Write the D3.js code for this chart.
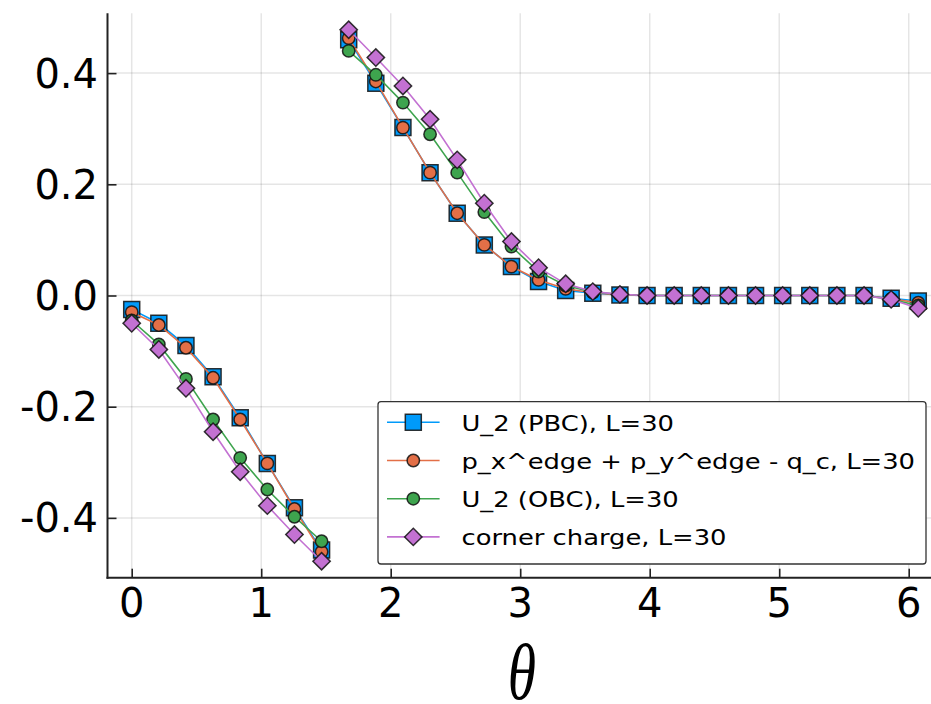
<!DOCTYPE html>
<html>
<head>
<meta charset="utf-8">
<script src="https://cdn.jsdelivr.net/npm/d3@7"></script>
<style>
  html, body { margin: 0; padding: 0; background: #fff; }
  svg { display: block; }
</style>
</head>
<body>
<svg id="chart" width="931" height="704"></svg>
<script>
// theta sample points (2πk/30, k = 0..29)
const thetaVals = [0.0000, 0.2094, 0.4189, 0.6283, 0.8378, 1.0472, 1.2566, 1.4661,
  1.6755, 1.8850, 2.0944, 2.3038, 2.5133, 2.7227, 2.9322, 3.1416, 3.3510, 3.5605,
  3.7699, 3.9794, 4.1888, 4.3982, 4.6077, 4.8171, 5.0265, 5.2360, 5.4454, 5.6549,
  5.8643, 6.0737];

const u2PbcVals = [-0.025, -0.050, -0.090, -0.146, -0.220, -0.302, -0.382, -0.458,
  0.460, 0.382, 0.302, 0.221, 0.148, 0.091, 0.052, 0.025, 0.009, 0.004,
  0.001, 0, 0, 0, 0, 0, 0, 0, 0, 0, -0.005, -0.010];

const edgeVals = [-0.030, -0.053, -0.094, -0.148, -0.223, -0.302, -0.384, -0.461,
  0.463, 0.385, 0.302, 0.221, 0.148, 0.091, 0.052, 0.028, 0.012, 0.005,
  0.001, 0, 0, 0, 0, 0, 0, 0, 0, 0, -0.006, -0.013];

const u2ObcVals = [-0.045, -0.088, -0.150, -0.223, -0.292, -0.349, -0.398, -0.442,
  0.440, 0.397, 0.347, 0.290, 0.221, 0.150, 0.088, 0.043, 0.018, 0.006,
  0.002, 0, 0, 0, 0, 0, 0, 0, 0, 0, -0.007, -0.018];

const cornerVals = [-0.050, -0.097, -0.167, -0.245, -0.317, -0.378, -0.430, -0.478,
  0.478, 0.428, 0.377, 0.317, 0.244, 0.166, 0.097, 0.050, 0.021, 0.007,
  0.002, 0, 0, 0, 0, 0, 0, 0, 0, 0, -0.007, -0.023];

const seriesNames = ["U_2 (PBC), L=30", "p_x^edge + p_y^edge - q_c, L=30",
  "U_2 (OBC), L=30", "corner charge, L=30"];

const xTickVals = [0, 1, 2, 3, 4, 5, 6];
const yTickVals = [-0.4, -0.2, 0.0, 0.2, 0.4];
const yTickLabels = ["-0.4", "-0.2", "0.0", "0.2", "0.4"];

const series = [
  { name: seriesNames[0], values: u2PbcVals, color: "#009AFA", marker: "square" },
  { name: seriesNames[1], values: edgeVals,  color: "#E36F47", marker: "circle" },
  { name: seriesNames[2], values: u2ObcVals, color: "#3EA44E", marker: "circle" },
  { name: seriesNames[3], values: cornerVals, color: "#C371D2", marker: "diamond" }
];

const svg = d3.select("#chart");

const plot = { left: 107.5, top: 13.3, bottom: 577.7 };
const x = d3.scaleLinear().domain([-0.187, 6.26]).range([plot.left, 942.4]);
const y = d3.scaleLinear().domain([-0.5076, 0.5076]).range([plot.bottom, plot.top]);

// grid
const grid = svg.append("g");
grid.selectAll("line.gx").data(xTickVals).join("line")
  .attr("x1", d => x(d)).attr("x2", d => x(d))
  .attr("y1", plot.top).attr("y2", plot.bottom)
  .attr("stroke", "#000").attr("stroke-opacity", 0.1).attr("stroke-width", 1.5);
grid.selectAll("line.gy").data(yTickVals).join("line")
  .attr("x1", plot.left).attr("x2", 931)
  .attr("y1", d => y(d)).attr("y2", d => y(d))
  .attr("stroke", "#000").attr("stroke-opacity", 0.1).attr("stroke-width", 1.5);

// axes (ticks pointing inward)
const xAxis = d3.axisTop(x).tickValues(xTickVals).tickSize(9).tickFormat("");
const yAxis = d3.axisRight(y).tickValues(yTickVals).tickSize(9).tickFormat("");

const gx = svg.append("g").attr("transform", `translate(0,${plot.bottom})`).call(xAxis);
gx.select(".domain").remove();
gx.selectAll(".tick line").attr("stroke", "#222").attr("stroke-width", 1.6);
svg.append("line").attr("x1", plot.left - 1).attr("x2", 931)
  .attr("y1", plot.bottom).attr("y2", plot.bottom)
  .attr("stroke", "#222").attr("stroke-width", 2);

const gy = svg.append("g").attr("transform", `translate(${plot.left},0)`).call(yAxis);
gy.select(".domain").remove();
gy.selectAll(".tick line").attr("stroke", "#222").attr("stroke-width", 1.6);
svg.append("line").attr("x1", plot.left).attr("x2", plot.left)
  .attr("y1", plot.top).attr("y2", plot.bottom + 1)
  .attr("stroke", "#222").attr("stroke-width", 2);

// tick labels
svg.append("g").selectAll("text").data(xTickVals).join("text")
  .attr("x", d => x(d)).attr("y", 617)
  .attr("text-anchor", "middle")
  .attr("font-family", "DejaVu Sans").attr("font-size", 40).attr("fill", "#000")
  .text(d => d3.format("d")(d));

svg.append("g").selectAll("text").data(yTickVals).join("text")
  .attr("x", 98).attr("y", d => y(d) + 14.6)
  .attr("text-anchor", "end")
  .attr("font-family", "DejaVu Sans").attr("font-size", 40).attr("fill", "#000")
  .text((d, i) => yTickLabels[i]);

// x axis title (tall, narrow italic theta)
svg.append("text")
  .attr("transform", "translate(522,699) scale(0.9,1.25)")
  .attr("text-anchor", "middle")
  .attr("font-family", "Liberation Serif").attr("font-style", "italic")
  .attr("font-size", 64).attr("fill", "#000")
  .text("θ");

// marker drawing
const symSquare = d3.symbol().type(d3.symbolSquare).size(256);
const symCircle = d3.symbol().type(d3.symbolCircle).size(120);
const symDiamond = d3.symbol().type(d3.symbolSquare).size(150);
function drawMarker(g, kind, color) {
  let path;
  if (kind === "square") path = g.append("path").attr("d", symSquare());
  else if (kind === "circle") path = g.append("path").attr("d", symCircle());
  else path = g.append("path").attr("d", symDiamond()).attr("transform", "rotate(45)");
  path.attr("fill", color).attr("stroke", "#111").attr("stroke-width", 1.5)
    .attr("stroke-opacity", 0.85);
}

const line = d3.line().x(d => x(d[0])).y(d => y(d[1]));

series.forEach(s => {
  const pts = thetaVals.map((t, i) => [t, s.values[i]]);
  // split the curve where the value jumps across the branch cut
  const segs = [];
  let cur = [pts[0]];
  for (let i = 1; i < pts.length; i++) {
    if (Math.abs(pts[i][1] - pts[i - 1][1]) > 0.5) { segs.push(cur); cur = []; }
    cur.push(pts[i]);
  }
  segs.push(cur);
  const g = svg.append("g");
  segs.forEach(seg => {
    g.append("path").attr("d", line(seg))
      .attr("fill", "none").attr("stroke", s.color).attr("stroke-width", 1.6);
  });
  pts.forEach(p => {
    const mg = g.append("g").attr("transform", `translate(${x(p[0])},${y(p[1])})`);
    drawMarker(mg, s.marker, s.color);
  });
});

// legend
const legend = svg.append("g");
legend.append("rect")
  .attr("x", 378).attr("y", 401.7).attr("width", 548).attr("height", 162.3)
  .attr("rx", 3).attr("fill", "#fff").attr("stroke", "#333").attr("stroke-width", 1.3);
series.forEach((s, i) => {
  const ly = 422.3 + i * 38.2;
  legend.append("line").attr("x1", 387).attr("x2", 439.6).attr("y1", ly).attr("y2", ly)
    .attr("stroke", s.color).attr("stroke-width", 1.6);
  const mg = legend.append("g").attr("transform", `translate(413.3,${ly})`);
  drawMarker(mg, s.marker, s.color);
  legend.append("text")
    .attr("transform", `translate(461.5,${ly + 8.4}) scale(1.2,1)`)
    .attr("font-family", "DejaVu Sans").attr("font-size", 21.5).attr("fill", "#000")
    .text(s.name);
});
</script>
</body>
</html>
